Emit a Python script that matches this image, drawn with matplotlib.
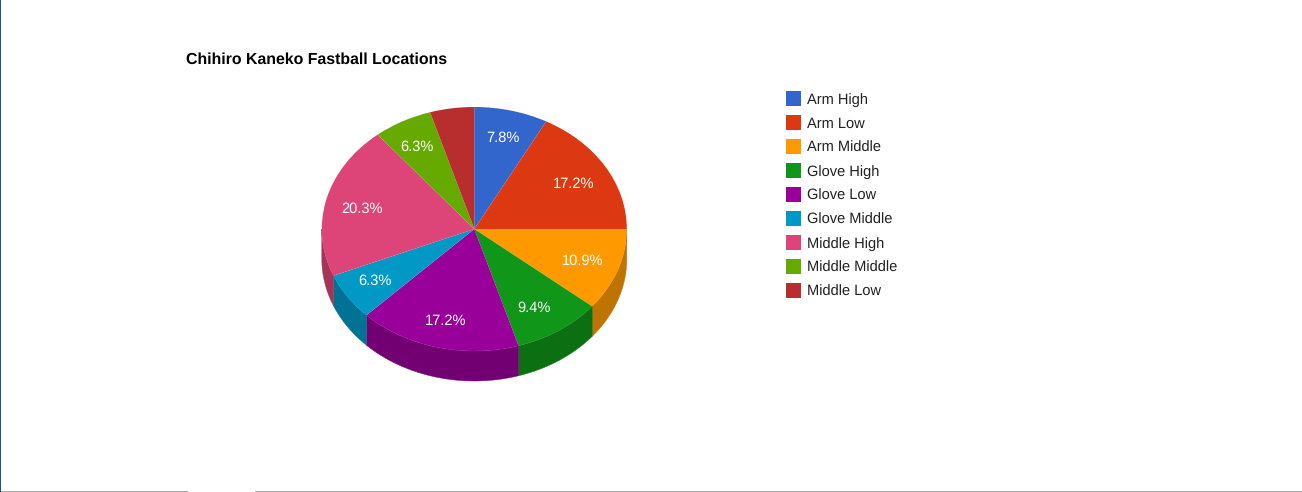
import math
import numpy as np
import matplotlib
matplotlib.use("Agg")
import matplotlib.pyplot as plt
from matplotlib.patches import Rectangle

plt.rcParams['font.family'] = ['Liberation Sans', 'DejaVu Sans']
plt.rcParams['text.hinting'] = 'no_hinting'
plt.rcParams['text.hinting_factor'] = 8

title = "Chihiro Kaneko Fastball Locations"
categories = ["Arm High", "Arm Low", "Arm Middle", "Glove High", "Glove Low",
              "Glove Middle", "Middle High", "Middle Middle", "Middle Low"]
pitch_counts = [5, 11, 7, 6, 11, 4, 13, 4, 3]
colors = ["#3366cc", "#dc3912", "#ff9900", "#109618", "#990099",
          "#0099c6", "#dd4477", "#66aa00", "#b82e2e"]
side_colors = ["#264d99", "#a52b0e", "#bf7300", "#0c7012", "#730073",
               "#007395", "#a63358", "#4d8000", "#8a2222"]
# small pixel adjustments of the percentage labels (layout only)
label_nudges = [(0, -2.5), (0, 1.5), (-0.5, -1), (-4.5, 0), (-1, 1),
                (-3, -1), (0, 0.5), (-3, -2), (0, 0)]

W, H = 1302, 492
CX, CY, RX, RY, DEPTH = 474.3, 229.0, 152.5, 122.0, 30.0

fig = plt.figure(figsize=(W / 100, H / 100), dpi=100, facecolor="white")

# Pie axes: data units are pie radii, stretched to an ellipse
ax = fig.add_axes([0, 0, 1, 1])


def autopct(p):
    if p < 5:
        return ""
    return f"{math.floor(p * 10 + 0.5 + 1e-6) / 10:.1f}%"


wedges, _, autotexts = ax.pie(
    pitch_counts, colors=colors, startangle=90, counterclock=False,
    autopct=autopct, pctdistance=0.76, radius=1.0, frame=False,
    wedgeprops=dict(linewidth=0, zorder=3),
    textprops=dict(color="white", fontsize=10.5, zorder=4),
)
ax.set_aspect("auto")
ax.set_xlim(-CX / RX, (W - CX) / RX)
ax.set_ylim(-(H - CY) / RY, CY / RY)
ax.axis("off")
for t, (dx, dy) in zip(autotexts, label_nudges):
    x0, y0 = t.get_position()
    t.set_position((x0 + dx / RX, y0 - dy / RY))
    t.set_ha("center")
    t.set_va("center_baseline")

# Extruded side walls of the front half
fractions = np.array(pitch_counts, dtype=float) / sum(pitch_counts)
edges = np.concatenate([[0.0], np.cumsum(fractions)]) * 2 * np.pi
d = DEPTH / RY
for a0, a1, c in zip(edges[:-1], edges[1:], side_colors):
    lo, hi = max(a0, np.pi / 2), min(a1, 3 * np.pi / 2)
    if hi <= lo:
        continue
    th = np.linspace(lo, hi, 80)
    x = np.sin(th)
    y = np.cos(th)
    ax.fill(np.r_[x, x[::-1]], np.r_[y, y[::-1] - d], color=c, lw=0.3, zorder=2)

# Overlay in pixel coordinates for page furniture, title and legend
ov = fig.add_axes([0, 0, 1, 1], facecolor="none")
ov.set_xlim(0, W)
ov.set_ylim(H, 0)
ov.axis("off")

ov.add_patch(Rectangle((0, 0), 1.3, H, color="#1f4e80", lw=0))
ov.add_patch(Rectangle((1.3, 491), 186.5, 1, color="#a8a8a8", lw=0))
ov.add_patch(Rectangle((255, 491), W - 255, 1, color="#a8a8a8", lw=0))

ov.text(186, 64.2, title, fontsize=11.4, fontweight="bold", color="black",
        ha="left", va="baseline")

for i, (name, c) in enumerate(zip(categories, colors)):
    yc = 98.5 + 24 * i
    ov.add_patch(Rectangle((786, yc - 7.5), 15, 15, color=c, lw=0))
    ov.text(807, yc + 5.7, name, fontsize=10.5, color="#222222", ha="left", va="baseline")

fig.savefig("out.png", dpi=100, facecolor="white")
